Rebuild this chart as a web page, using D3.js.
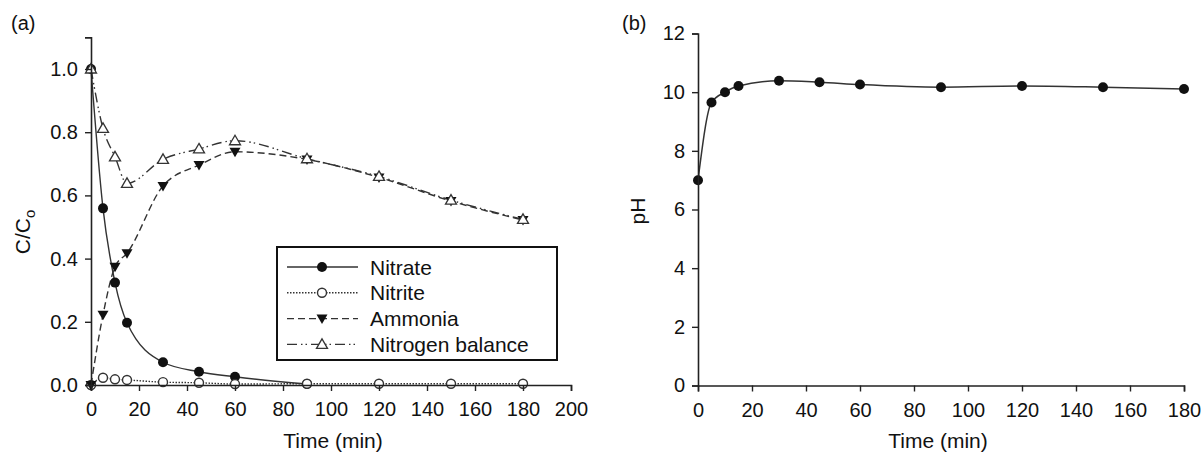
<!DOCTYPE html>
<html>
<head>
<meta charset="utf-8">
<script src="https://cdn.jsdelivr.net/npm/d3@7"></script>
<style>
  body { margin: 0; background: #fff; }
  svg text { font-family: "Liberation Sans", Arial, sans-serif; fill: #111; }
</style>
</head>
<body>
<svg width="1204" height="454"></svg>
<script>
// time points (min)
var time = [0, 5, 10, 15, 30, 45, 60, 90, 120, 150, 180];
// panel (a) C/Co
var nitrate = [1.0, 0.559, 0.324, 0.197, 0.072, 0.042, 0.026, 0.003];
var nitrite = [0.0, 0.023, 0.018, 0.016, 0.009, 0.007, 0.003, 0.004, 0.004, 0.004, 0.004];
var ammonia = [0.0, 0.222, 0.374, 0.417, 0.63, 0.696, 0.738, 0.714, 0.657, 0.582, 0.522];
var nbalance = [1.0, 0.812, 0.722, 0.638, 0.714, 0.747, 0.773, 0.716, 0.66, 0.585, 0.524];
// panel (b) pH
var ph = [7.0, 9.65, 10.0, 10.21, 10.39, 10.34, 10.26, 10.17, 10.21, 10.17, 10.11];

var xTicksA = [0, 20, 40, 60, 80, 100, 120, 140, 160, 180, 200];
var yTicksA = [0, 0.2, 0.4, 0.6, 0.8, 1.0];
var xTicksB = [0, 20, 40, 60, 80, 100, 120, 140, 160, 180];
var yTicksB = [0, 2, 4, 6, 8, 10, 12];

var svg = d3.select("svg");
var ink = "#222";

function pairs(vals) {
  return vals.map(function(v, i) { return [time[i], v]; });
}

function axes(g, x, y, xt, yt, yfmt) {
  var xa = g.append("g").attr("transform", "translate(0," + y.range()[0] + ")")
    .call(d3.axisBottom(x).tickValues(xt).tickSize(6).tickPadding(11).tickFormat(d3.format("d")));
  var ya = g.append("g").attr("transform", "translate(" + x.range()[0] + ",0)")
    .call(d3.axisLeft(y).tickValues(yt).tickSize(6).tickPadding(7).tickFormat(yfmt));
  [xa, ya].forEach(function(a) {
    a.select(".domain").attr("stroke", ink).attr("stroke-width", 1.6);
    a.selectAll(".tick line").attr("stroke", ink).attr("stroke-width", 1.4);
    a.selectAll(".tick text").style("font-size", "20px").attr("fill", "#111");
  });
}

// ---------- panel (a) ----------
var xa = d3.scaleLinear().domain([0, 200]).range([91, 571]);
var ya = d3.scaleLinear().domain([0, 1.1]).range([385, 37.4]);
var ga = svg.append("g");

var lineA = d3.line().x(function(d) { return xa(d[0]); }).y(function(d) { return ya(d[1]); })
  .curve(d3.curveMonotoneX);

var seriesA = [
  { name: "Nitrate", vals: nitrate, dash: null, mark: "dot" },
  { name: "Nitrite", vals: nitrite, dash: "1.5,1.5", mark: "circle" },
  { name: "Ammonia", vals: ammonia, dash: "7,4", mark: "down" },
  { name: "Nitrogen balance", vals: nbalance, dash: "10,4,1.5,3,1.5,4", mark: "up" }
];

function marker(sel, type) {
  if (type === "dot") {
    sel.append("circle").attr("r", 5).attr("fill", "#111");
  } else if (type === "circle") {
    sel.append("circle").attr("r", 4.5).attr("fill", "#fff").attr("stroke", "#333").attr("stroke-width", 1.4);
  } else if (type === "down") {
    sel.append("path").attr("d", "M-5.5,-4L5.5,-4L0,5.5Z").attr("fill", "#111");
  } else {
    sel.append("path").attr("d", "M0,-5.5L5.5,4L-5.5,4Z").attr("fill", "#fff").attr("stroke", "#333").attr("stroke-width", 1.3);
  }
}

seriesA.forEach(function(s) {
  ga.append("path").datum(pairs(s.vals)).attr("d", lineA)
    .attr("fill", "none").attr("stroke", "#333").attr("stroke-width", 1.4)
    .attr("stroke-dasharray", s.dash);
});
seriesA.forEach(function(s) {
  ga.selectAll(null).data(pairs(s.vals)).enter().append("g")
    .attr("transform", function(d) { return "translate(" + xa(d[0]) + "," + ya(d[1]) + ")"; })
    .each(function() { marker(d3.select(this), s.mark); });
});

axes(ga, xa, ya, xTicksA, yTicksA, d3.format(".1f"));

// legend
var leg = ga.append("g").attr("transform", "translate(277,247)");
leg.append("rect").attr("width", 280).attr("height", 113)
  .attr("fill", "#fff").attr("stroke", "#111").attr("stroke-width", 2);
seriesA.forEach(function(s, i) {
  var row = leg.append("g").attr("transform", "translate(0," + (20 + i * 25.8) + ")");
  row.append("line").attr("x1", 10).attr("x2", 81)
    .attr("stroke", "#333").attr("stroke-width", 1.4).attr("stroke-dasharray", s.dash);
  marker(row.append("g").attr("transform", "translate(45,0)"), s.mark);
  row.append("text").attr("x", 93).attr("y", 7.5).style("font-size", "21px").text(s.name);
});

ga.append("text").attr("x", 333).attr("y", 448).attr("text-anchor", "middle")
  .style("font-size", "21px").text("Time (min)");
var yl = ga.append("text").attr("transform", "translate(30,232) rotate(-90)")
  .attr("text-anchor", "middle").style("font-size", "21px");
yl.append("tspan").text("C/C");
yl.append("tspan").attr("dy", 5).style("font-size", "15px").text("o");
ga.append("text").attr("x", 11).attr("y", 30).style("font-size", "20px").text("(a)");

// ---------- panel (b) ----------
var xb = d3.scaleLinear().domain([0, 180]).range([698, 1184]);
var yb = d3.scaleLinear().domain([0, 12]).range([385.5, 33.5]);
var gb = svg.append("g");

gb.append("path").datum(pairs(ph))
  .attr("d", d3.line().x(function(d) { return xb(d[0]); }).y(function(d) { return yb(d[1]); })
    .curve(d3.curveMonotoneX))
  .attr("fill", "none").attr("stroke", "#333").attr("stroke-width", 1.5);
gb.selectAll(null).data(pairs(ph)).enter().append("circle")
  .attr("cx", function(d) { return xb(d[0]); })
  .attr("cy", function(d) { return yb(d[1]); })
  .attr("r", 5).attr("fill", "#111");

axes(gb, xb, yb, xTicksB, yTicksB, d3.format("d"));

gb.append("text").attr("x", 938).attr("y", 448).attr("text-anchor", "middle")
  .style("font-size", "21px").text("Time (min)");
gb.append("text").attr("transform", "translate(645,211) rotate(-90)")
  .attr("text-anchor", "middle").style("font-size", "21px").text("pH");
gb.append("text").attr("x", 622).attr("y", 30).style("font-size", "20px").text("(b)");
</script>
</body>
</html>
